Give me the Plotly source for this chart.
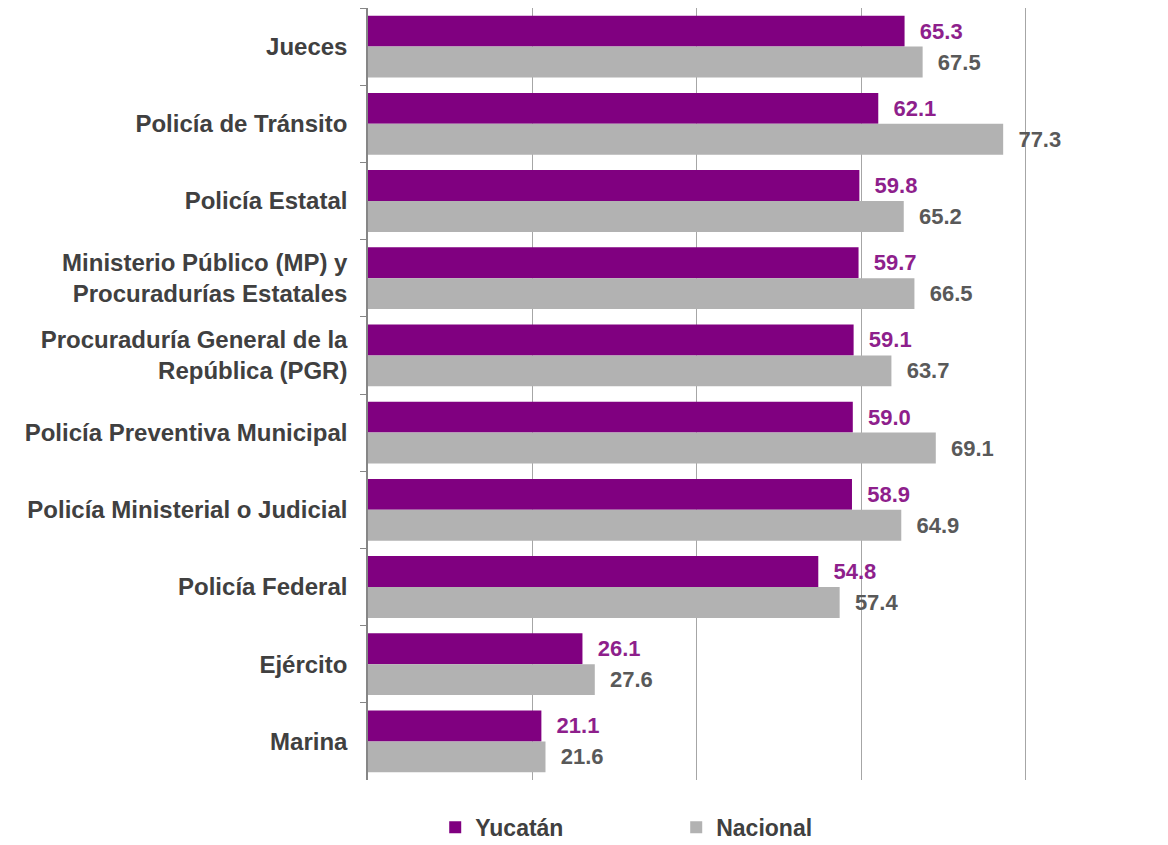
import plotly.graph_objects as go

categories = [
    "Jueces",
    "Policía de Tránsito",
    "Policía Estatal",
    "Ministerio Público (MP) y<br>Procuradurías Estatales",
    "Procuraduría General de la<br>República (PGR)",
    "Policía Preventiva Municipal",
    "Policía Ministerial o Judicial",
    "Policía Federal",
    "Ejército",
    "Marina",
]
yucatan = [65.3, 62.1, 59.8, 59.7, 59.1, 59.0, 58.9, 54.8, 26.1, 21.1]
nacional = [67.5, 77.3, 65.2, 66.5, 63.7, 69.1, 64.9, 57.4, 27.6, 21.6]

PURPLE = "#800080"
GRAY = "#B2B2B2"
FONT = "Liberation Sans, Arial, sans-serif"

fig = go.Figure()
fig.add_trace(go.Bar(
    y=categories, x=yucatan, orientation="h", name="Yucatán",
    marker=dict(color=PURPLE, line=dict(width=0)),
    text=["  " + f"{v:.1f}" for v in yucatan], textposition="outside",
    textfont=dict(family=FONT, size=22, color="#8E1F8C", weight="bold"),
    cliponaxis=False,
))
fig.add_trace(go.Bar(
    y=categories, x=nacional, orientation="h", name="Nacional",
    marker=dict(color=GRAY, line=dict(width=0)),
    text=["  " + f"{v:.1f}" for v in nacional], textposition="outside",
    textfont=dict(family=FONT, size=22, color="#595959", weight="bold"),
    cliponaxis=False,
))

fig.update_layout(
    width=1160, height=837,
    margin=dict(l=360, r=141, t=0, b=65, autoexpand=False),
    paper_bgcolor="white", plot_bgcolor="white",
    barmode="group", bargap=0.2, bargroupgap=0,
    font=dict(family=FONT, color="#404040"),
    showlegend=True,
    legend=dict(
        orientation="h", x=0.102, xanchor="left",
        yref="container", y=0.021, yanchor="middle",
        font=dict(family=FONT, size=23, color="#404040", weight="bold"),
        entrywidth=196, traceorder="normal",
    ),
    xaxis=dict(
        range=[0, 80.2], dtick=20, showticklabels=False,
        showgrid=True, gridcolor="#A6A6A6", gridwidth=1,
        zeroline=False, showline=False, ticks="",
    ),
    yaxis=dict(
        autorange="reversed", showline=True, linecolor="#868686", linewidth=1.5,
        ticks="outside", tickson="boundaries", ticklen=6, tickcolor="#868686",
        ticklabelstandoff=14,
        tickfont=dict(family=FONT, size=24, color="#404040", weight="bold"),
        showgrid=False,
    ),
)

fig.write_html("out.html")
